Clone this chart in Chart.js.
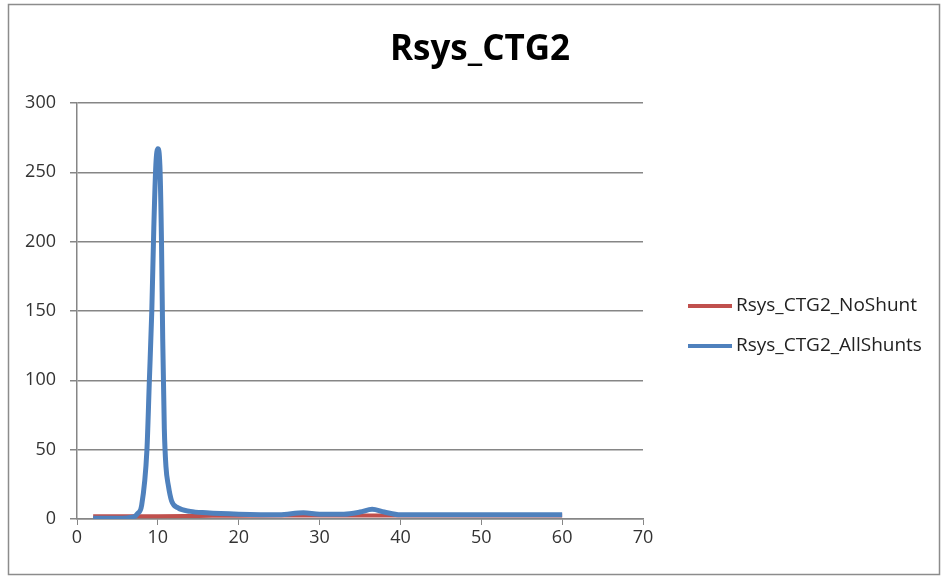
<!DOCTYPE html>
<html>
<head>
<meta charset="utf-8">
<script src="https://cdn.jsdelivr.net/npm/chart.js@4/dist/chart.umd.min.js"></script>
<style>
  html, body { margin: 0; padding: 0; background: #fff; }
  #wrap { width: 943px; height: 577px; }
</style>
</head>
<body>
<div id="wrap"><canvas id="chart" width="943" height="577"></canvas></div>
<script>
const chartTitle = "Rsys_CTG2";

// Rsys_CTG2_NoShunt
const noShuntX = [2, 5, 10, 15, 20, 25, 30, 35, 40, 45, 50, 55, 60];
const noShuntY = [2, 2, 2, 2.2, 2.4, 2.5, 2.5, 2.5, 2.5, 2.5, 2.5, 2.5, 2.5];

// Rsys_CTG2_AllShunts
const allShuntsX = [2, 5, 7, 7.5, 8, 8.65, 8.95, 9.25, 9.5, 9.75, 10, 10.25, 10.45, 10.6, 10.8, 11, 11.3, 11.7, 12.5, 14, 16, 20, 25, 28, 30, 33, 35, 36.5, 38, 40, 50, 60];
const allShuntsY = [0.5, 0.5, 1.5, 4, 10, 50, 100, 150, 210, 255, 267, 255, 200, 130, 65, 38, 24, 13, 8, 5.5, 4.5, 3.5, 3, 4.5, 3.5, 3.5, 5, 7, 5, 3, 3, 3];

const yTicks = { min: 0, max: 300, step: 50 };
const xTicks = { min: 0, max: 70, step: 10 };

const toPoints = (xs, ys) => xs.map((x, i) => ({ x: x, y: ys[i] }));

const gridColor = "#868686";
const fontFamily = "'Open Sans', 'Liberation Sans', sans-serif";

// marco, título y leyenda dibujados a mano
const extras = {
  id: "extras",
  beforeDraw(chart) {
    const ctx = chart.ctx;
    ctx.save();
    ctx.fillStyle = "#fff";
    ctx.fillRect(0, 0, chart.width, chart.height);
    ctx.strokeStyle = "#8c8c8c";
    ctx.lineWidth = 1.5;
    ctx.strokeRect(8.5, 4.5, 931, 570);
    ctx.restore();
  },
  afterDraw(chart) {
    const ctx = chart.ctx;
    ctx.save();
    ctx.fillStyle = "#000";
    ctx.font = "bold 35px " + fontFamily;
    ctx.textAlign = "center";
    ctx.textBaseline = "middle";
    ctx.fillText(chartTitle, 480, 50);

    ctx.font = "19px " + fontFamily;
    ctx.textAlign = "left";
    chart.data.datasets.forEach((ds, i) => {
      const y = 306 + i * 40;
      ctx.strokeStyle = ds.borderColor;
      ctx.lineWidth = 4;
      ctx.beginPath();
      ctx.moveTo(688, y);
      ctx.lineTo(732, y);
      ctx.stroke();
      ctx.fillStyle = "#222";
      ctx.fillText(ds.label, 736, y);
    });
    ctx.restore();
  }
};

new Chart(document.getElementById("chart").getContext("2d"), {
  type: "line",
  data: {
    datasets: [
      {
        label: "Rsys_CTG2_NoShunt",
        data: toPoints(noShuntX, noShuntY),
        borderColor: "#C0504D",
        borderWidth: 4,
        pointRadius: 0,
        cubicInterpolationMode: "monotone",
        order: 2
      },
      {
        label: "Rsys_CTG2_AllShunts",
        data: toPoints(allShuntsX, allShuntsY),
        borderColor: "#4F81BD",
        borderWidth: 5,
        pointRadius: 0,
        cubicInterpolationMode: "monotone",
        order: 1
      }
    ]
  },
  options: {
    responsive: false,
    animation: false,
    layout: { padding: { top: 103, right: 300, left: 0, bottom: 0 } },
    scales: {
      x: {
        type: "linear",
        min: xTicks.min,
        max: xTicks.max,
        afterFit: (scale) => { scale.height = 58; },
        ticks: { stepSize: xTicks.step, color: "#333", font: { size: 18, family: fontFamily }, padding: 2, maxRotation: 0 },
        grid: { drawOnChartArea: false, color: gridColor, tickLength: 6 },
        border: { color: gridColor, width: 1.5 }
      },
      y: {
        min: yTicks.min,
        max: yTicks.max,
        afterFit: (scale) => { scale.width = 77; },
        ticks: { stepSize: yTicks.step, color: "#333", font: { size: 18, family: fontFamily }, padding: 14 },
        grid: { color: gridColor, lineWidth: 1.5, tickLength: 7 },
        border: { color: gridColor, width: 1.5 }
      }
    },
    plugins: {
      legend: { display: false },
      title: { display: false },
      tooltip: { enabled: false }
    }
  },
  plugins: [extras]
});
</script>
</body>
</html>
